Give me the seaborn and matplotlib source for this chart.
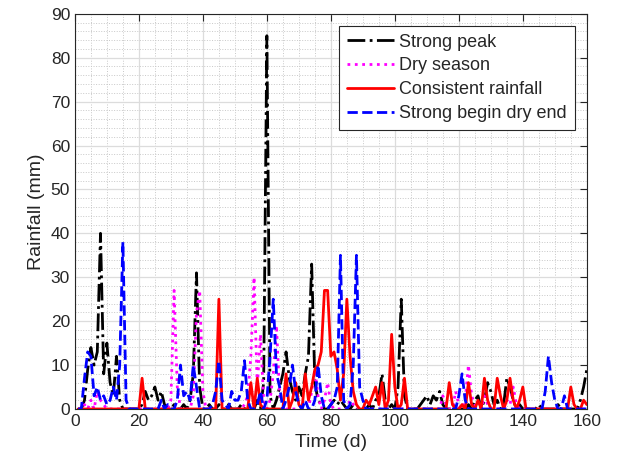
import numpy as np
import pandas as pd
import seaborn as sns
import matplotlib.pyplot as plt
from matplotlib.ticker import MultipleLocator

days = list(range(1, 161))

strong_peak = [
    0, 0, 2, 9, 14, 10, 13, 40, 8, 15, 6, 3, 12, 2, 0, 0,
    0, 0, 0, 0, 1, 4, 2, 3, 5, 2, 4, 1, 0, 0, 1, 0,
    0, 1, 0, 2, 8, 31, 5, 0, 0, 1, 0, 0, 1, 0, 0, 1,
    0, 0, 0, 1, 0, 0, 0, 0, 2, 0, 6, 85, 3, 0, 2, 5,
    8, 13, 7, 4, 2, 5, 3, 8, 12, 33, 6, 2, 1, 0, 0, 1,
    2, 1, 2, 1, 0, 0, 1, 0, 0, 0, 0, 1, 0, 2, 3, 8,
    2, 0, 1, 0, 5, 25, 3, 0, 0, 0, 0, 1, 2, 3, 1, 3,
    2, 4, 1, 0, 0, 0, 1, 0, 0, 0, 1, 0, 2, 3, 0, 2,
    6, 4, 1, 2, 0, 1, 7, 5, 2, 0, 1, 0, 0, 0, 0, 0,
    1, 0, 0, 0, 0, 0, 1, 0, 0, 0, 0, 0, 0, 2, 5, 9,
]

dry_season = [
    0, 0, 1, 0, 2, 0, 4, 2, 1, 0, 0, 0, 0, 0, 0, 0,
    0, 0, 0, 0, 0, 0, 0, 0, 0, 0, 0, 0, 0, 2, 27, 5,
    0, 0, 0, 0, 3, 22, 27, 4, 0, 0, 0, 0, 0, 0, 0, 0,
    0, 0, 0, 0, 1, 3, 12, 30, 5, 17, 2, 0, 2, 8, 19, 3,
    2, 0, 0, 0, 0, 0, 0, 0, 0, 4, 9, 3, 0, 2, 6, 1,
    0, 0, 0, 0, 0, 2, 1, 0, 0, 0, 0, 0, 0, 0, 0, 0,
    0, 0, 0, 0, 0, 0, 0, 0, 0, 0, 0, 0, 0, 0, 0, 0,
    0, 0, 3, 1, 0, 0, 4, 1, 0, 2, 10, 3, 1, 0, 0, 3,
    1, 0, 0, 0, 0, 0, 2, 1, 5, 1, 0, 0, 0, 0, 0, 0,
    0, 0, 0, 0, 0, 0, 0, 0, 0, 0, 0, 0, 0, 0, 0, 0,
]

consistent = [
    0, 0, 0, 0, 0, 0, 0, 0, 0, 0, 0, 0, 0, 0, 0, 0,
    0, 0, 0, 0, 7, 0, 0, 0, 0, 0, 0, 0, 0, 0, 0, 0,
    0, 0, 0, 0, 0, 0, 0, 0, 0, 0, 0, 0, 25, 0, 0, 0,
    0, 0, 0, 0, 0, 0, 6, 0, 7, 1, 0, 0, 0, 0, 0, 0,
    0, 8, 0, 2, 6, 1, 0, 8, 2, 5, 9, 10, 13, 27, 27, 12,
    13, 9, 2, 8, 25, 12, 4, 1, 0, 0, 2, 1, 3, 5, 1, 6,
    0, 2, 17, 5, 0, 1, 7, 0, 0, 0, 0, 0, 0, 0, 0, 0,
    0, 0, 0, 0, 6, 1, 0, 0, 1, 0, 6, 1, 0, 2, 0, 7,
    2, 0, 0, 7, 3, 0, 2, 7, 2, 0, 2, 5, 0, 0, 0, 0,
    0, 0, 0, 0, 0, 0, 0, 0, 0, 0, 5, 1, 0, 0, 2, 1,
]

begin_dry_end = [
    0, 0, 7, 13, 12, 3, 5, 2, 3, 1, 2, 5, 2, 10, 38, 2,
    0, 0, 0, 0, 0, 0, 0, 0, 0, 0, 2, 0, 1, 0, 0, 2,
    10, 3, 4, 2, 10, 5, 0, 0, 0, 0, 1, 4, 11, 2, 1, 0,
    4, 2, 2, 4, 11, 2, 0, 0, 1, 4, 0, 2, 12, 25, 8, 5,
    0, 2, 5, 10, 4, 1, 0, 2, 0, 0, 2, 10, 3, 0, 0, 1,
    2, 5, 35, 2, 0, 1, 10, 35, 5, 2, 0, 0, 0, 0, 0, 0,
    0, 0, 0, 0, 0, 0, 0, 0, 0, 0, 0, 0, 0, 0, 0, 0,
    0, 0, 0, 0, 0, 0, 0, 3, 8, 2, 0, 0, 0, 0, 0, 0,
    0, 0, 0, 0, 0, 0, 0, 0, 0, 0, 0, 0, 0, 0, 0, 0,
    0, 0, 4, 12, 6, 2, 0, 0, 3, 0, 0, 0, 0, 0, 0, 0,
]

series_names = ["Strong peak", "Dry season", "Consistent rainfall", "Strong begin dry end"]
series_values = [strong_peak, dry_season, consistent, begin_dry_end]
colors = ["black", "#ff00ff", "red", "blue"]
styles = ["-.", ":", "-", "--"]

sns.set_style("white")
plt.rcParams['font.family'] = ['Liberation Sans', 'DejaVu Sans']

fig = plt.figure(figsize=(6.19, 4.75), dpi=100)
ax = fig.add_axes([0.121, 0.139, 0.827, 0.832])

for name, vals, c, ls in zip(series_names, series_values, colors, styles):
    sns.lineplot(x=days, y=vals, ax=ax, color=c, linestyle=ls, linewidth=2.0, label=name)

ax.set_xlim(0, 160)
ax.set_ylim(0, 90)
ax.xaxis.set_major_locator(MultipleLocator(20))
ax.yaxis.set_major_locator(MultipleLocator(10))
ax.xaxis.set_minor_locator(MultipleLocator(5))
ax.yaxis.set_minor_locator(MultipleLocator(2))
ax.grid(which='major', color='#dcdcdc', linewidth=0.9)
ax.grid(which='minor', color='#c8c8c8', linestyle=':', linewidth=0.7)
ax.set_axisbelow(True)
for sp in ax.spines.values():
    sp.set_color('#262626')
    sp.set_linewidth(0.8)
ax.tick_params(which='major', direction='in', length=5, top=True, right=True,
               labelsize=12.5, colors='#262626')
ax.tick_params(which='minor', length=0)
ax.set_xlabel("Time (d)", fontsize=14, color='#262626')
ax.set_ylabel("Rainfall (mm)", fontsize=14, color='#262626')

leg = ax.legend(loc='upper right', fontsize=13, frameon=True, fancybox=False,
                edgecolor='#262626', framealpha=1, handlelength=2.6,
                borderaxespad=0.65, labelspacing=0.38, handletextpad=0.3,
                borderpad=0.45)
leg.get_frame().set_linewidth(0.8)

fig.savefig("out.png", dpi=100)
